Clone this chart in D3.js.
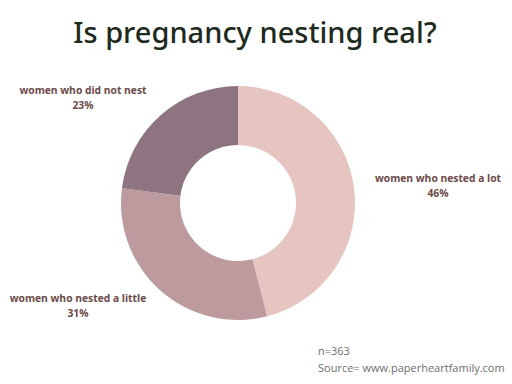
<!DOCTYPE html>
<html><head><meta charset="utf-8">
<script src="https://cdn.jsdelivr.net/npm/d3@7"></script>
<style>body{margin:0;background:#fff}svg{display:block}</style>
</head><body>
<svg id="c" width="512" height="384"></svg>
<script>
const categories = ["women who nested a lot", "women who nested a little", "women who did not nest"];
const values = [46, 31, 23];
const colors = ["#e6c5c0", "#bc9a9e", "#8e7480"];
const labelPos = [[438, 182], [78, 302], [83, 94]];

const svg = d3.select("#c");
svg.append("text").attr("x", 255).attr("y", 43).attr("text-anchor", "middle")
  .attr("font-family", "'Noto Sans', sans-serif").attr("font-weight", 500).attr("font-size", 29)
  .attr("fill", "#1e2a1e").text("Is pregnancy nesting real?");

const pie = d3.pie().sort(null).value(d => d)(values);
const arc = d3.arc().innerRadius(58).outerRadius(117);
const g = svg.append("g").attr("transform", "translate(238,203)");
g.selectAll("path").data(pie).join("path").attr("d", arc).attr("fill", (d, i) => colors[i]);

categories.forEach((c, i) => {
  const t = svg.append("text").attr("text-anchor", "middle")
    .attr("font-family", "'Open Sans', sans-serif").attr("font-weight", "bold")
    .attr("font-size", 10.3).attr("fill", "#6b4a48");
  t.append("tspan").attr("x", labelPos[i][0]).attr("y", labelPos[i][1]).text(c);
  t.append("tspan").attr("x", labelPos[i][0]).attr("y", labelPos[i][1] + 15).text(values[i] + "%");
});

const foot = svg.append("text").attr("font-family", "'Open Sans', sans-serif")
  .attr("font-size", 11).attr("fill", "#6e6e6e");
foot.append("tspan").attr("x", 318).attr("y", 355).text("n=363");
foot.append("tspan").attr("x", 318).attr("y", 372).text("Source= www.paperheartfamily.com");
</script>
</body></html>
